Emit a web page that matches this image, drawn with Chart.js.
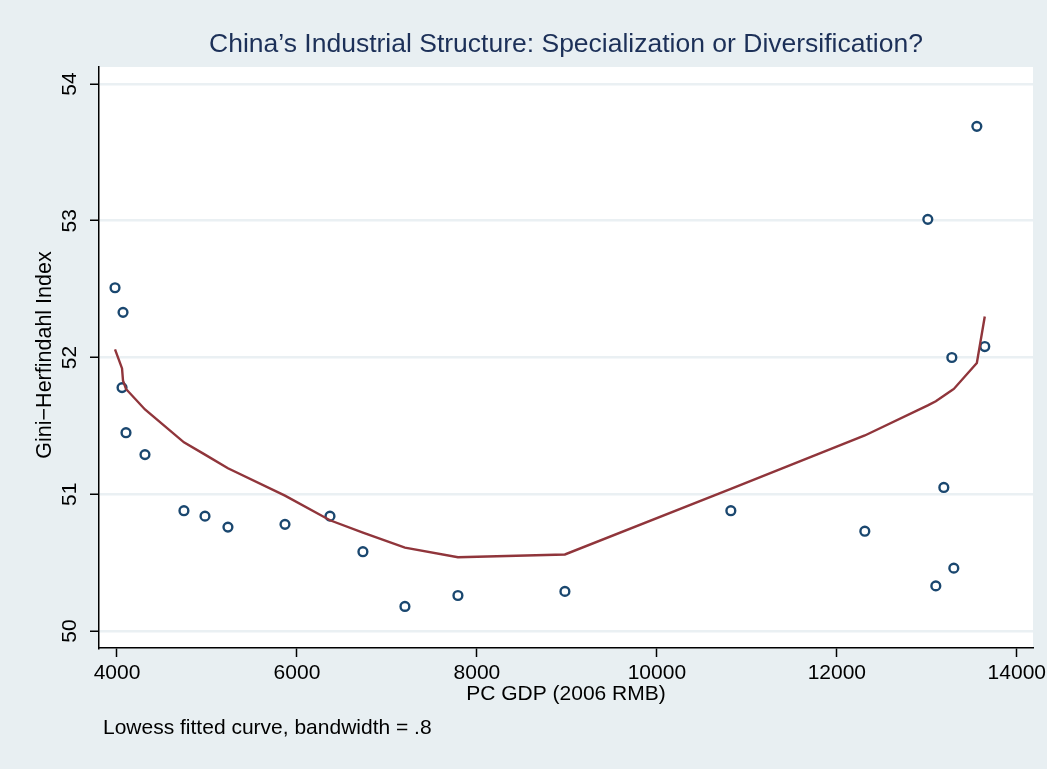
<!DOCTYPE html>
<html>
<head>
<meta charset="utf-8">
<script src="https://cdn.jsdelivr.net/npm/chart.js@4"></script>
<style>
  body { margin: 0; background: #e8eff2; }
  #wrap { width: 1047px; height: 769px; }
</style>
</head>
<body>
<div id="wrap"><canvas id="giniChart" width="1047" height="769"></canvas></div>
<script>
// Data
const gdpX = [3978, 4067, 4056, 4100, 4311, 4744, 4978, 5233, 5867, 6367, 6733, 7200, 7789, 8978, 10822, 12311, 13011, 13556, 13278, 13644, 13189, 13100, 13300];
const giniY = [52.51, 52.33, 51.78, 51.45, 51.29, 50.88, 50.84, 50.76, 50.78, 50.84, 50.58, 50.18, 50.26, 50.29, 50.88, 50.73, 53.01, 53.69, 52.00, 52.08, 51.05, 50.33, 50.46];

const lowessX = [3978, 4056, 4067, 4100, 4311, 4744, 4978, 5233, 5867, 6367, 6733, 7200, 7789, 8978, 10822, 12311, 13011, 13100, 13189, 13278, 13300, 13556, 13644];
const lowessY = [52.06, 51.92, 51.83, 51.77, 51.62, 51.38, 51.29, 51.19, 50.99, 50.81, 50.72, 50.61, 50.54, 50.56, 51.04, 51.43, 51.65, 51.68, 51.72, 51.76, 51.77, 51.96, 52.30];

const xTicks = [4000, 6000, 8000, 10000, 12000, 14000];
const yTicks = [50, 51, 52, 53, 54];

const FONT = '"Liberation Sans", Arial, sans-serif';

// background, tick labels and texts around the plot
const decor = {
    id: 'decor',
    beforeDraw(chart) {
        const c = chart.ctx;
        const a = chart.chartArea;
        c.save();
        c.fillStyle = '#e8eff2';
        c.fillRect(0, 0, chart.width, chart.height);
        c.fillStyle = '#ffffff';
        c.fillRect(a.left, a.top, a.right - a.left, a.bottom - a.top);
        c.restore();
    },
    afterDraw(chart) {
        const c = chart.ctx;
        const a = chart.chartArea;
        const xs = chart.scales.x;
        const ys = chart.scales.y;
        c.save();
        c.fillStyle = '#1c3058';
        c.font = '26.5px ' + FONT;
        c.textAlign = 'center';
        c.textBaseline = 'middle';
        c.fillText('China\u2019s Industrial Structure: Specialization or Diversification?', 566, 45);

        c.fillStyle = '#000';
        c.font = '21px ' + FONT;
        xTicks.forEach(v => {
            c.fillText(String(v), xs.getPixelForValue(v), 673);
        });
        c.fillText('PC GDP (2006 RMB)', 566, 694);

        c.textAlign = 'left';
        c.fillText('Lowess fitted curve, bandwidth = .8', 103, 728);

        // rotated y tick labels and title
        c.textAlign = 'center';
        yTicks.forEach(v => {
            c.save();
            c.translate(70, ys.getPixelForValue(v));
            c.rotate(-Math.PI / 2);
            c.font = '21px ' + FONT;
            c.fillText(String(v), 0, 0);
            c.restore();
        });
        c.translate(45, 355);
        c.rotate(-Math.PI / 2);
        c.font = '21.5px ' + FONT;
        c.fillText('Gini\u2212Herfindahl Index', 0, 0);
        c.restore();
    }
};

const ctx = document.getElementById('giniChart').getContext('2d');
new Chart(ctx, {
    type: 'scatter',
    data: {
        datasets: [{
            label: 'Lowess',
            data: lowessX.map((x, i) => ({ x: x, y: lowessY[i] })),
            showLine: true,
            borderColor: '#90353b',
            borderWidth: 2.4,
            pointRadius: 0,
            tension: 0,
            order: 0
        }, {
            label: 'Gini',
            data: gdpX.map((x, i) => ({ x: x, y: giniY[i] })),
            pointStyle: 'circle',
            pointRadius: 4.4,
            borderWidth: 2.4,
            borderColor: '#1a476f',
            backgroundColor: '#ffffff',
            order: 1
        }]
    },
    options: {
        responsive: false,
        animation: false,
        layout: { padding: { left: 0, right: 14, top: 67, bottom: 81 } },
        plugins: {
            legend: { display: false },
            tooltip: { enabled: false }
        },
        scales: {
            x: {
                type: 'linear',
                min: 3800,
                max: 14180,
                afterBuildTicks: s => { s.ticks = xTicks.map(v => ({ value: v })); },
                afterFit: s => { s.height = 40; },
                border: { display: true, color: '#000', width: 1.5 },
                grid: { drawOnChartArea: false, drawTicks: true, tickLength: 9, tickColor: '#000', tickWidth: 1.5 },
                ticks: { display: false }
            },
            y: {
                type: 'linear',
                min: 49.876,
                max: 54.124,
                afterBuildTicks: s => { s.ticks = yTicks.map(v => ({ value: v })); },
                afterFit: s => { s.width = 99; },
                border: { display: true, color: '#000', width: 1.5 },
                grid: { color: '#eaf0f3', lineWidth: 2.5, drawTicks: true, tickLength: 9, tickColor: '#000', tickWidth: 1.5 },
                ticks: { display: false }
            }
        }
    },
    plugins: [decor]
});
</script>
</body>
</html>
